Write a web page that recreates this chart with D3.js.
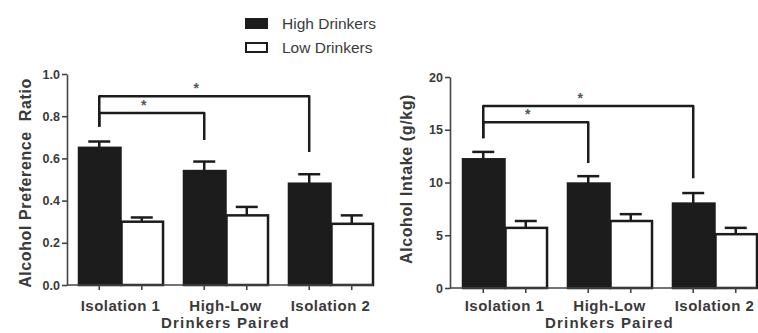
<!DOCTYPE html>
<html>
<head>
<meta charset="utf-8">
<script src="https://cdn.jsdelivr.net/npm/d3@7"></script>
<style>
  body { margin: 0; background: #fff; }
  text { font-family: "Liberation Sans", Arial, sans-serif; }
</style>
</head>
<body>
<script>
// categories and series
var groups = ["Isolation 1", "High-Low", "Isolation 2"];
var seriesNames = ["High Drinkers", "Low Drinkers"];

// alcohol preference ratio (mean, SEM)
var prefHigh = [0.65, 0.54, 0.48];
var prefHighErr = [0.03, 0.045, 0.045];
var prefLow = [0.30, 0.33, 0.29];
var prefLowErr = [0.02, 0.04, 0.04];
var prefTicks = [0, 0.2, 0.4, 0.6, 0.8, 1.0];

// alcohol intake g/kg (mean, SEM)
var intakeHigh = [12.2, 9.9, 8.0];
var intakeHighErr = [0.7, 0.7, 1.0];
var intakeLow = [5.7, 6.35, 5.1];
var intakeLowErr = [0.65, 0.65, 0.6];
var intakeTicks = [0, 5, 10, 15, 20];

// significance brackets: from group, to group, bracket level, left leg end, right leg end
var prefBrackets = [
  {from: 0, to: 1, level: 0.815, leftEnd: 0.75, rightEnd: 0.687},
  {from: 0, to: 2, level: 0.895, leftEnd: 0.75, rightEnd: 0.63}
];
var intakeBrackets = [
  {from: 0, to: 1, level: 15.7, leftEnd: 14.2, rightEnd: 11.85},
  {from: 0, to: 2, level: 17.25, leftEnd: 14.2, rightEnd: 10.4}
];

var W = 758, H = 333;
var ink = "#1c1c1c", textCol = "#3a3a3a";

var svg = d3.select("body")
  .append("svg")
    .attr("width", W)
    .attr("height", H);

function drawPanel(opt) {
  var g = svg.append("g");

  var y = d3.scaleLinear()
    .domain([0, opt.ticks[opt.ticks.length - 1]])
    .range([opt.bottom, opt.top]);

  var x0 = d3.scaleBand()
    .domain(groups)
    .range([opt.barStart, opt.barEnd])
    .paddingInner(0.19)
    .paddingOuter(0);

  var x1 = d3.scaleBand()
    .domain(seriesNames)
    .range([0, x0.bandwidth()]);

  var rows = [];
  groups.forEach(function (grp, i) {
    rows.push({grp: grp, s: seriesNames[0], v: opt.high[i], e: opt.highErr[i]});
    rows.push({grp: grp, s: seriesNames[1], v: opt.low[i], e: opt.lowErr[i]});
  });
  var cx = function (d) { return x0(d.grp) + x1(d.s) + x1.bandwidth() / 2; };

  // error bars (upper only)
  g.selectAll(".err")
    .data(rows)
    .enter()
    .append("line")
      .attr("x1", cx).attr("x2", cx)
      .attr("y1", function (d) { return y(d.v); })
      .attr("y2", function (d) { return y(d.v + d.e); })
      .attr("stroke", ink)
      .attr("stroke-width", 2.5);
  g.selectAll(".cap")
    .data(rows)
    .enter()
    .append("line")
      .attr("x1", function (d) { return cx(d) - 11; })
      .attr("x2", function (d) { return cx(d) + 11; })
      .attr("y1", function (d) { return y(d.v + d.e); })
      .attr("y2", function (d) { return y(d.v + d.e); })
      .attr("stroke", ink)
      .attr("stroke-width", 2.5);

  // bars
  g.selectAll(".bar")
    .data(rows)
    .enter()
    .append("rect")
      .attr("x", function (d) { return x0(d.grp) + x1(d.s) + 1; })
      .attr("y", function (d) { return y(d.v); })
      .attr("width", x1.bandwidth() - 1)
      .attr("height", function (d) { return y(0) - y(d.v); })
      .attr("fill", function (d) { return d.s === seriesNames[0] ? ink : "#fff"; })
      .attr("stroke", ink)
      .attr("stroke-width", 2.5);

  // y axis
  var yAxis = g.append("g")
    .attr("transform", "translate(" + opt.axisX + ",0)")
    .call(d3.axisLeft(y)
      .tickValues(opt.ticks)
      .tickSize(5)
      .tickSizeOuter(0)
      .tickFormat(opt.fmt));
  yAxis.select(".domain").attr("stroke", "#444").attr("stroke-width", 1.6);
  yAxis.selectAll(".tick line").attr("stroke", "#444").attr("stroke-width", 1.6);
  yAxis.selectAll("text")
    .attr("fill", textCol)
    .style("font-size", "12.5px")
    .style("font-weight", "bold")
    .attr("x", -7);

  // x axis baseline and ticks at bar centres
  g.append("line")
    .attr("x1", opt.axisX).attr("x2", opt.barEnd)
    .attr("y1", y(0)).attr("y2", y(0))
    .attr("stroke", "#444").attr("stroke-width", 1.6);
  g.selectAll(".xtick")
    .data(rows)
    .enter()
    .append("line")
      .attr("x1", cx).attr("x2", cx)
      .attr("y1", y(0)).attr("y2", y(0) + 5)
      .attr("stroke", "#444").attr("stroke-width", 1.6);

  g.selectAll(".xlab")
    .data(groups)
    .enter()
    .append("text")
      .attr("x", function (d) { return x0(d) + x0.bandwidth() / 2; })
      .attr("y", 311)
      .attr("text-anchor", "middle")
      .attr("fill", textCol)
      .style("font-size", "15px")
      .style("font-weight", "bold")
      .style("letter-spacing", "0.5px")
      .text(function (d) { return d; });

  g.append("text")
    .attr("x", x0(groups[1]) + x0.bandwidth() / 2)
    .attr("y", 328)
    .attr("text-anchor", "middle")
    .attr("fill", textCol)
    .style("font-size", "15px")
    .style("font-weight", "bold")
    .style("letter-spacing", "1.2px")
    .text("Drinkers Paired");

  // y axis title
  g.append("text")
    .attr("transform", "translate(" + opt.titleX + "," + opt.titleY + ")rotate(-90)")
    .attr("text-anchor", "middle")
    .attr("fill", textCol)
    .style("font-size", "16px")
    .style("font-weight", "bold")
    .style("letter-spacing", "0.6px")
    .style("white-space", "pre")
    .text(opt.title);

  // significance brackets
  var gx = function (i) { return x0(groups[i]) + x1(seriesNames[0]) + x1.bandwidth() / 2; };
  opt.brackets.forEach(function (b) {
    var path = d3.path();
    path.moveTo(gx(b.from), y(b.leftEnd));
    path.lineTo(gx(b.from), y(b.level));
    path.lineTo(gx(b.to), y(b.level));
    path.lineTo(gx(b.to), y(b.rightEnd));
    g.append("path")
      .attr("d", path.toString())
      .attr("fill", "none")
      .attr("stroke", ink)
      .attr("stroke-width", 2.5)
      .attr("stroke-linejoin", "round");
    g.append("text")
      .attr("x", (gx(b.from) + gx(b.to)) / 2 - 8)
      .attr("y", y(b.level) - 3)
      .attr("text-anchor", "middle")
      .attr("fill", "#555")
      .style("font-size", "14px")
      .style("font-weight", "bold")
      .text("*");
  });
}

drawPanel({
  high: prefHigh, highErr: prefHighErr, low: prefLow, lowErr: prefLowErr,
  ticks: prefTicks, fmt: d3.format(".1f"),
  brackets: prefBrackets,
  top: 74, bottom: 285, axisX: 67, barStart: 78, barEnd: 373,
  title: "Alcohol Preference  Ratio", titleX: 31, titleY: 183
});

drawPanel({
  high: intakeHigh, highErr: intakeHighErr, low: intakeLow, lowErr: intakeLowErr,
  ticks: intakeTicks, fmt: d3.format("d"),
  brackets: intakeBrackets,
  top: 77, bottom: 288, axisX: 450, barStart: 462, barEnd: 757,
  title: "Alcohol Intake (g/kg)", titleX: 412, titleY: 179
});

// legend
var legend = svg.append("g");
legend.selectAll("rect")
  .data(seriesNames)
  .enter()
  .append("rect")
    .attr("x", 246)
    .attr("y", function (d, i) { return 19 + i * 24; })
    .attr("width", 21)
    .attr("height", 9)
    .attr("fill", function (d, i) { return i === 0 ? ink : "#fff"; })
    .attr("stroke", ink)
    .attr("stroke-width", 2);
legend.selectAll("text")
  .data(seriesNames)
  .enter()
  .append("text")
    .attr("x", 282)
    .attr("y", function (d, i) { return 29 + i * 24; })
    .attr("fill", textCol)
    .style("font-size", "15.5px")
    .text(function (d) { return d; });
</script>
</body>
</html>
